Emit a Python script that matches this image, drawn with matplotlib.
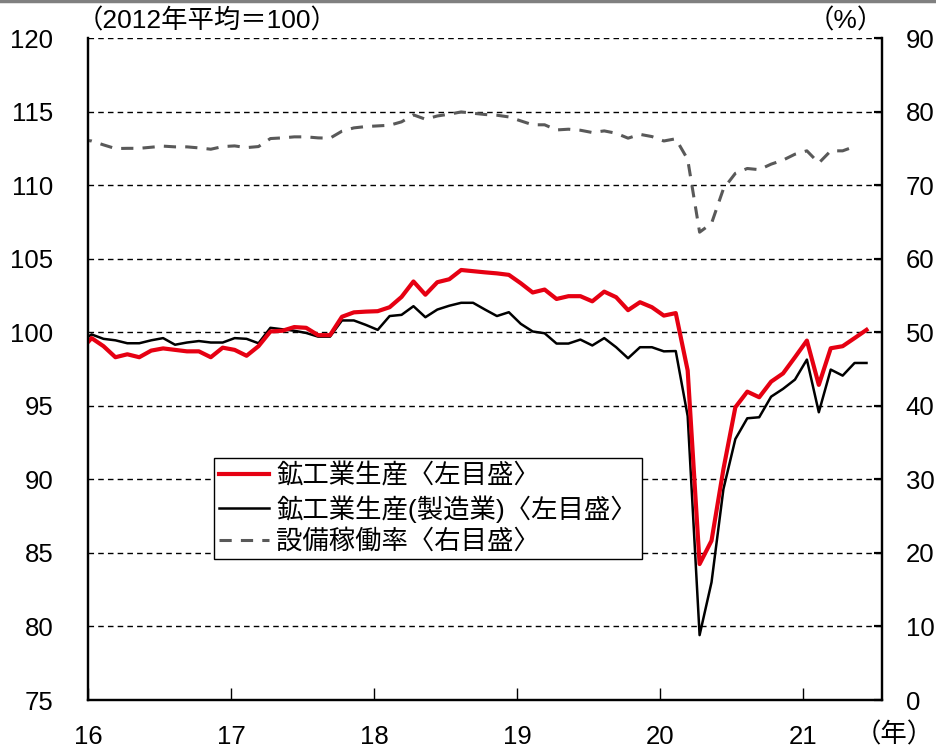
import matplotlib
matplotlib.use("Agg")
import matplotlib.pyplot as plt
from matplotlib.lines import Line2D
import numpy as np

plt.rcParams['font.family'] = ['Liberation Sans', 'Noto Sans CJK JP', 'DejaVu Sans']

# monthly data, Dec 2015 .. Jun 2021 (index 0 = Dec 2015)
production = [98.7,
              99.6, 99.05, 98.3, 98.5, 98.3, 98.75, 98.9, 98.8, 98.7, 98.7, 98.3, 98.95,
              98.8, 98.4, 99.05, 100.05, 100.1, 100.35, 100.3, 99.8, 99.8, 101.05, 101.35, 101.4,
              101.43, 101.7, 102.4, 103.45, 102.55, 103.4, 103.6, 104.23, 104.15, 104.07, 104.0, 103.9,
              103.33, 102.7, 102.9, 102.26, 102.45, 102.45, 102.1, 102.76, 102.38, 101.5, 102.04, 101.7,
              101.13, 101.3, 97.4, 84.24, 85.83, 90.7, 94.9, 95.96, 95.58, 96.64, 97.2, 98.3,
              99.43, 96.42, 98.91, 99.05, 99.6, 100.16]
manufacturing = [99.3,
                 99.85, 99.55, 99.45, 99.25, 99.25, 99.45, 99.6, 99.15, 99.3, 99.4, 99.3, 99.3,
                 99.6, 99.55, 99.25, 100.3, 100.2, 100.1, 99.95, 99.7, 99.7, 100.8, 100.8, 100.5,
                 100.16, 101.1, 101.18, 101.77, 101.02, 101.54, 101.8, 102.0, 102.0, 101.54, 101.1, 101.36,
                 100.57, 100.05, 99.93, 99.23, 99.23, 99.5, 99.1, 99.6, 98.98, 98.23, 98.98, 98.98,
                 98.7, 98.72, 94.3, 79.41, 83.0, 89.34, 92.74, 94.15, 94.22, 95.62, 96.15, 96.78,
                 98.14, 94.56, 97.46, 97.05, 97.91, 97.91]
# Dec 2015 .. May 2021
utilization = [76.2,
               76.0, 75.47, 74.97, 75.0, 75.0, 75.15, 75.3, 75.2, 75.2, 75.06, 74.88, 75.24,
               75.33, 75.1, 75.24, 76.33, 76.42, 76.56, 76.56, 76.42, 76.38, 77.33, 77.78, 77.96,
               78.05, 78.14, 78.6, 79.55, 78.96, 79.4, 79.64, 79.95, 79.77, 79.6, 79.5, 79.27,
               78.73, 78.2, 78.2, 77.5, 77.6, 77.46, 77.15, 77.37, 77.05, 76.38, 76.9, 76.6,
               76.0, 76.3, 73.5, 63.6, 64.8, 69.5, 71.6, 72.26, 72.1, 72.85, 73.4, 74.2,
               74.66, 73.0, 74.66, 74.66, 75.25]

year_labels = ['16', '17', '18', '19', '20', '21']
labels = ['鉱工業生産〈左目盛〉', '鉱工業生産(製造業)〈左目盛〉', '設備稼働率〈右目盛〉']

x_prod = np.arange(len(production)) - 1 + 0.3
x_util = np.arange(len(utilization)) - 1 + 0.3

fig = plt.figure(figsize=(9.36, 7.48), dpi=100)
ax = fig.add_axes([88 / 936, 1 - 700 / 748, (882 - 88) / 936, (700 - 38) / 748])
ax2 = ax.twinx()

red_line, = ax.plot(x_prod, production, color='#e60012', lw=3.0, zorder=4)
black_line, = ax.plot(x_prod, manufacturing, color='black', lw=1.8, zorder=3)
gray_line, = ax2.plot(x_util, utilization, color='#595959', lw=2.2, ls=(0, (4, 3)))

ax.set_xlim(0, 66.6)
ax.set_ylim(75, 120)
ax2.set_ylim(0, 90)
ax.set_yticks(np.arange(75, 121, 5))
ax2.set_yticks(np.arange(0, 91, 10))
ax.set_xticks(np.arange(0, 61, 12))
ax.set_xticklabels(year_labels)

ax.grid(axis='y', color='black', lw=1.0, ls=(0, (4, 3)))
ax.set_axisbelow(True)

for a in (ax, ax2):
    a.spines['top'].set_visible(False)
    for s in ('left', 'right', 'bottom'):
        a.spines[s].set_linewidth(1.6)
ax.tick_params(axis='y', direction='in', length=0, labelsize=18.5, pad=25)
ax.tick_params(axis='x', direction='in', length=9, width=1, labelsize=18.5, pad=18)
ax2.tick_params(axis='y', direction='in', length=6, width=1.6, labelsize=18.5, pad=17)

fig.text(77 / 936, 1 - 21 / 748, '（2012年平均＝100）', fontsize=19, va='center', ha='left')
fig.text(884 / 936, 1 - 21 / 748, '（%）', fontsize=19, va='center', ha='right')
fig.text(934 / 936, 1 - 735 / 748, '（年）', fontsize=19, va='center', ha='right')

fig.add_artist(Line2D([0, 1], [0.999, 0.999], color='#808080', lw=2.5))

leg = ax2.legend([red_line, black_line, gray_line], labels,
                 loc='upper left', bbox_to_anchor=(214 / 936, 1 - 458 / 748),
                 bbox_transform=fig.transFigure, borderaxespad=0,
                 fontsize=19, frameon=True, fancybox=False, framealpha=1,
                 edgecolor='black', handlelength=1.9, handletextpad=0.25,
                 labelspacing=0.25, borderpad=0.2)
leg.get_frame().set_linewidth(1.0)

fig.savefig('out.png', dpi=100)
